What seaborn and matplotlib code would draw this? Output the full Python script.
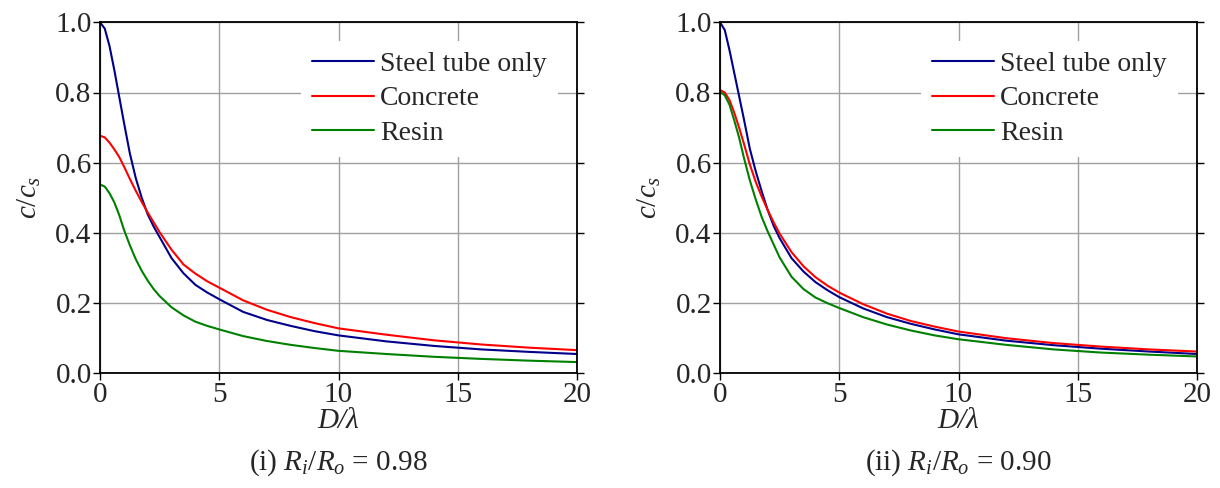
import numpy as np
import pandas as pd
import matplotlib
matplotlib.use("Agg")
import matplotlib.pyplot as plt
import seaborn as sns

# ---- data ----
D = [0, 0.2, 0.4, 0.6, 0.8, 1.0, 1.25, 1.5, 1.75, 2.0, 2.25, 2.5, 3.0, 3.5, 4, 4.5,
     5, 6, 7, 8, 9, 10, 12, 14, 16, 18, 20]

steel_098 = [1.0, 0.982, 0.932, 0.864, 0.79, 0.716, 0.627, 0.556, 0.50, 0.453, 0.418, 0.388,
             0.328, 0.285, 0.252, 0.23, 0.211, 0.175, 0.152, 0.135, 0.12, 0.108, 0.091,
             0.078, 0.068, 0.061, 0.055]
concrete_098 = [0.677, 0.672, 0.657, 0.638, 0.617, 0.59, 0.554, 0.52, 0.488, 0.458, 0.43,
                0.402, 0.352, 0.31, 0.284, 0.262, 0.244, 0.208, 0.181, 0.16, 0.143, 0.128,
                0.11, 0.094, 0.082, 0.073, 0.066]
resin_098 = [0.538, 0.532, 0.513, 0.487, 0.452, 0.41, 0.365, 0.325, 0.292, 0.264, 0.24, 0.22,
             0.188, 0.165, 0.147, 0.135, 0.125, 0.106, 0.092, 0.081, 0.072, 0.064, 0.055,
             0.047, 0.041, 0.036, 0.032]

steel_090 = [1.0, 0.978, 0.92, 0.855, 0.79, 0.725, 0.64, 0.575, 0.518, 0.465, 0.42, 0.385,
             0.328, 0.29, 0.26, 0.237, 0.217, 0.185, 0.16, 0.141, 0.125, 0.111, 0.093,
             0.08, 0.07, 0.062, 0.055]
concrete_090 = [0.807, 0.8, 0.778, 0.742, 0.70, 0.655, 0.595, 0.545, 0.503, 0.465, 0.43,
                0.398, 0.345, 0.305, 0.274, 0.25, 0.23, 0.197, 0.17, 0.149, 0.133, 0.119,
                0.1, 0.086, 0.076, 0.068, 0.062]
resin_090 = [0.802, 0.792, 0.765, 0.72, 0.672, 0.615, 0.55, 0.495, 0.445, 0.404, 0.367, 0.33,
             0.275, 0.24, 0.216, 0.2, 0.186, 0.16, 0.139, 0.122, 0.108, 0.097, 0.081,
             0.068, 0.059, 0.053, 0.048]

series_names = ["Steel tube only", "Concrete", "Resin"]
colors = {"Steel tube only": "#00008b", "Concrete": "#ff0000", "Resin": "#008000"}
captions = ["(i) $R_i/R_o$ = 0.98", "(ii) $R_i/R_o$ = 0.90"]
xticks = [0, 5, 10, 15, 20]
yticks = [0.0, 0.2, 0.4, 0.6, 0.8, 1.0]

panels = [
    [steel_098, concrete_098, resin_098],
    [steel_090, concrete_090, resin_090],
]

sns.set_style("white")
plt.rcParams["font.family"] = ["Liberation Serif", "DejaVu Serif"]
plt.rcParams["mathtext.fontset"] = "custom"
plt.rcParams["mathtext.rm"] = "Liberation Serif"
plt.rcParams["mathtext.it"] = "Liberation Serif:italic"
plt.rcParams["mathtext.bf"] = "Liberation Serif:bold"

FS = 21

fig = plt.figure(figsize=(12.2, 4.88), dpi=100)
lefts = [100 / 1220, 720 / 1220]
bottom = (488 - 373.3) / 488
w = 477 / 1220
h = 351 / 488

for i, vals in enumerate(panels):
    ax = fig.add_axes([lefts[i], bottom, w, h])
    frames = []
    for name, v in zip(series_names, vals):
        frames.append(pd.DataFrame({"D": D, "c": v, "Material": name}))
    df = pd.concat(frames, ignore_index=True)
    sns.lineplot(data=df, x="D", y="c", hue="Material", palette=colors,
                 hue_order=series_names, ax=ax, linewidth=1.5, legend=True)
    ax.set_xlim(0, 20)
    ax.set_ylim(0, 1.0)
    ax.set_xticks(xticks)
    ax.set_yticks(yticks)
    ax.set_xticklabels([str(t) for t in xticks])
    ax.set_yticklabels([f"{t:.1f}" for t in yticks])
    ax.grid(True, color="#a0a0a0", linewidth=1.0)
    ax.set_axisbelow(True)
    for s in ax.spines.values():
        s.set_color("black")
        s.set_linewidth(1.3)
    ax.tick_params(axis="both", direction="out", length=5, width=1.0, color="black",
                   labelsize=FS, pad=1, bottom=True, left=True, right=True, top=False)
    ax.set_xlabel("D/λ", fontsize=FS, fontstyle="italic", labelpad=0)
    ax.set_ylabel("$c/c_s$", fontsize=FS, labelpad=9)
    leg = ax.legend(loc="upper left", bbox_to_anchor=(0.421, 0.948), fontsize=20,
                    frameon=True, fancybox=False, framealpha=1.0, borderpad=0.4,
                    handlelength=2.25, handletextpad=0.2, labelspacing=0.32,
                    borderaxespad=0)
    leg.get_frame().set_edgecolor("none")
    leg.get_frame().set_facecolor("white")
    for line in leg.get_lines():
        line.set_linewidth(1.5)
    fig.text(lefts[i] + w / 2, 1 - 463 / 488, captions[i], fontsize=FS,
             ha="center", va="center")

fig.savefig("out.png", dpi=100)
